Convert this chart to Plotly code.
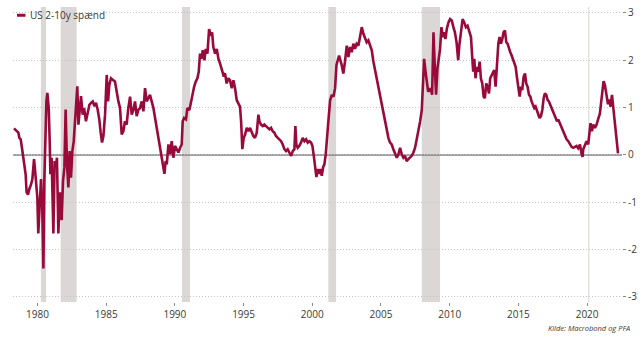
import plotly.graph_objects as go

# ---- data (decimal years, spread in %-points) ----
t = [
    1978.29, 1978.49, 1978.61, 1978.68, 1978.78, 1978.87, 1978.97, 1979.07, 1979.14, 1979.21,
    1979.31, 1979.41, 1979.53, 1979.63, 1979.75, 1979.82, 1979.89, 1979.99, 1980.06, 1980.16,
    1980.26, 1980.35, 1980.43, 1980.50, 1980.57, 1980.65, 1980.72, 1980.82, 1980.89, 1980.94,
    1981.03, 1981.16, 1981.25, 1981.35, 1981.42, 1981.52, 1981.64, 1981.76, 1981.86, 1981.96,
    1982.05, 1982.15, 1982.25, 1982.34, 1982.44, 1982.54, 1982.64, 1982.73, 1982.83, 1982.90,
    1982.98, 1983.07, 1983.17, 1983.29, 1983.39, 1983.53, 1983.66, 1983.78, 1983.90, 1984.02,
    1984.14, 1984.26, 1984.38, 1984.50, 1984.60, 1984.70, 1984.80, 1984.92, 1985.04, 1985.14,
    1985.23, 1985.35, 1985.52, 1985.64, 1985.89, 1986.01, 1986.13, 1986.25, 1986.37, 1986.49,
    1986.61, 1986.74, 1986.86, 1986.98, 1987.10, 1987.22, 1987.34, 1987.46, 1987.59, 1987.71,
    1987.83, 1987.95, 1988.07, 1988.19, 1988.31, 1988.44, 1988.56, 1988.68, 1988.80, 1988.92,
    1989.04, 1989.16, 1989.24, 1989.33, 1989.41, 1989.53, 1989.65, 1989.77, 1989.89, 1990.01,
    1990.13, 1990.26, 1990.38, 1990.50, 1990.57, 1990.67, 1990.81, 1990.91, 1991.06, 1991.18,
    1991.30, 1991.40, 1991.52, 1991.64, 1991.74, 1991.83, 1991.93, 1992.03, 1992.15, 1992.25,
    1992.37, 1992.49, 1992.61, 1992.71, 1992.80, 1992.93, 1993.05, 1993.17, 1993.29, 1993.41,
    1993.53, 1993.65, 1993.77, 1993.89, 1994.01, 1994.14, 1994.26, 1994.38, 1994.50, 1994.62,
    1994.74, 1994.82, 1994.91, 1995.01, 1995.11, 1995.23, 1995.35, 1995.47, 1995.59, 1995.71,
    1995.83, 1995.96, 1996.08, 1996.15, 1996.27, 1996.39, 1996.51, 1996.64, 1996.76, 1996.88,
    1997.00, 1997.12, 1997.24, 1997.36, 1997.49, 1997.61, 1997.73, 1997.85, 1997.97, 1998.09,
    1998.21, 1998.33, 1998.46, 1998.58, 1998.70, 1998.77, 1998.84, 1998.94, 1999.06, 1999.18,
    1999.30, 1999.43, 1999.55, 1999.67, 1999.79, 1999.91, 2000.01, 2000.11, 2000.20, 2000.30,
    2000.40, 2000.50, 2000.59, 2000.69, 2000.79, 2000.88, 2000.98, 2001.05, 2001.17, 2001.30,
    2001.42, 2001.54, 2001.66, 2001.76, 2001.85, 2001.95, 2002.14, 2002.26, 2002.38, 2002.51,
    2002.63, 2002.75, 2002.87, 2002.99, 2003.11, 2003.23, 2003.36, 2003.48, 2003.60, 2003.72,
    2003.84, 2003.96, 2004.08, 2004.20, 2004.33, 2004.45, 2004.57, 2004.69, 2004.81, 2004.93,
    2005.05, 2005.18, 2005.30, 2005.42, 2005.54, 2005.66, 2005.78, 2005.90, 2006.02, 2006.15,
    2006.27, 2006.39, 2006.51, 2006.63, 2006.75, 2006.87, 2006.99, 2007.12, 2007.24, 2007.36,
    2007.48, 2007.60, 2007.72, 2007.85, 2007.97, 2008.04, 2008.14, 2008.23, 2008.33, 2008.43,
    2008.53, 2008.62, 2008.72, 2008.82, 2008.91, 2009.01, 2009.11, 2009.20, 2009.30, 2009.40,
    2009.50, 2009.59, 2009.69, 2009.79, 2009.91, 2010.03, 2010.15, 2010.27, 2010.38, 2010.50,
    2010.62, 2010.70, 2010.82, 2010.94, 2011.06, 2011.18, 2011.30, 2011.42, 2011.55, 2011.64,
    2011.71, 2011.79, 2011.88, 2011.98, 2012.08, 2012.18, 2012.27, 2012.37, 2012.47, 2012.56,
    2012.66, 2012.76, 2012.86, 2012.95, 2013.05, 2013.15, 2013.24, 2013.34, 2013.44, 2013.54,
    2013.63, 2013.73, 2013.83, 2013.92, 2014.02, 2014.12, 2014.21, 2014.31, 2014.41, 2014.51,
    2014.60, 2014.70, 2014.80, 2014.89, 2014.99, 2015.09, 2015.19, 2015.28, 2015.38, 2015.48,
    2015.57, 2015.67, 2015.77, 2015.87, 2015.96, 2016.06, 2016.16, 2016.25, 2016.35, 2016.45,
    2016.54, 2016.64, 2016.74, 2016.84, 2016.93, 2017.03, 2017.13, 2017.22, 2017.32, 2017.42,
    2017.52, 2017.61, 2017.71, 2017.81, 2017.90, 2018.00, 2018.14, 2018.26, 2018.38, 2018.51,
    2018.63, 2018.75, 2018.87, 2018.99, 2019.11, 2019.23, 2019.35, 2019.48, 2019.60, 2019.67,
    2019.72, 2019.84, 2019.96, 2020.08, 2020.16, 2020.25, 2020.35, 2020.45, 2020.57, 2020.69,
    2020.81, 2020.93, 2021.03, 2021.13, 2021.20, 2021.30, 2021.42, 2021.52, 2021.61, 2021.71,
    2021.81, 2021.90, 2022.00, 2022.10, 2022.19, 2022.25,
]
spread = [
    0.56, 0.50, 0.47, 0.36, 0.33, 0.15, -0.06, -0.20, -0.41, -0.79,
    -0.84, -0.72, -0.63, -0.51, -0.09, -0.30, -0.58, -0.90, -1.66, -0.90,
    -0.51, -1.10, -2.40, -0.55, 0.64, 1.13, 1.31, 0.99, 0.29, -0.41,
    -0.06, -1.66, -0.13, -0.23, -0.06, -1.66, -0.79, -1.38, -0.55, -0.27,
    0.96, -0.20, -0.69, 0.08, -0.48, 0.08, 0.29, 0.64, 0.99, 1.45,
    0.64, 1.03, 1.24, 0.85, 0.99, 0.71, 0.92, 1.06, 1.10, 1.13,
    1.03, 1.10, 0.96, 0.75, 0.47, 0.26, 0.40, 0.85, 1.69, 1.13,
    1.48, 1.62, 1.58, 1.55, 1.13, 0.99, 0.43, 0.50, 0.71, 0.64,
    0.99, 1.23, 0.85, 0.95, 1.13, 0.82, 0.95, 0.99, 1.13, 0.92,
    1.41, 1.13, 1.20, 1.27, 1.13, 0.99, 0.78, 0.57, 0.43, 0.22,
    0.01, -0.20, -0.40, -0.13, -0.20, 0.22, 0.01, 0.29, -0.06, 0.19,
    0.12, 0.05, 0.15, 0.22, 0.71, 0.78, 0.75, 0.99, 0.95, 1.13,
    1.23, 1.44, 1.55, 1.62, 1.76, 2.14, 2.03, 2.21, 2.00, 2.24,
    2.14, 2.66, 2.52, 2.59, 2.28, 2.14, 2.24, 2.03, 1.93, 1.83,
    1.69, 1.72, 1.51, 1.62, 1.58, 1.41, 1.58, 1.41, 1.16, 1.09,
    1.02, 0.71, 0.12, 0.36, 0.43, 0.57, 0.50, 0.57, 0.47, 0.40,
    0.36, 0.47, 0.85, 0.71, 0.64, 0.61, 0.64, 0.61, 0.57, 0.54,
    0.57, 0.50, 0.47, 0.40, 0.36, 0.33, 0.29, 0.22, 0.12, 0.08,
    0.12, 0.05, -0.02, 0.08, 0.12, 0.61, 0.22, 0.15, 0.19, 0.26,
    0.36, 0.29, 0.33, 0.26, 0.29, 0.26, 0.19, -0.02, -0.26, -0.47,
    -0.30, -0.40, -0.30, -0.44, -0.26, -0.20, 0.01, 0.36, 0.71, 1.16,
    1.27, 1.23, 1.41, 1.90, 2.00, 2.10, 1.90, 1.72, 1.97, 2.31,
    2.07, 2.28, 2.17, 2.35, 2.24, 2.35, 2.31, 2.49, 2.70, 2.56,
    2.45, 2.38, 2.42, 2.31, 2.21, 1.97, 1.79, 1.58, 1.44, 1.23,
    1.06, 0.85, 0.68, 0.50, 0.36, 0.26, 0.22, 0.12, 0.01, -0.06,
    0.01, 0.15, 0.01, -0.06, -0.02, -0.13, -0.09, -0.06, -0.02, 0.05,
    0.15, 0.33, 0.50, 0.71, 0.95, 1.41, 2.03, 1.79, 1.55, 1.34,
    1.37, 1.41, 1.27, 2.59, 1.90, 1.27, 1.83, 2.00, 2.24, 2.70,
    2.49, 2.59, 2.45, 2.66, 2.80, 2.87, 2.84, 2.70, 2.59, 2.38,
    2.00, 2.31, 2.59, 2.87, 2.80, 2.70, 2.73, 2.59, 2.49, 2.07,
    1.76, 2.03, 1.62, 1.86, 1.76, 1.97, 1.62, 1.51, 1.23, 1.20,
    1.51, 1.44, 1.30, 1.62, 1.69, 1.76, 1.79, 1.44, 2.03, 2.35,
    2.49, 2.35, 2.45, 2.59, 2.63, 2.38, 2.35, 2.24, 2.17, 2.10,
    2.03, 1.93, 1.86, 1.65, 1.37, 1.23, 1.44, 1.37, 1.65, 1.72,
    1.51, 1.44, 1.27, 1.23, 1.13, 1.06, 0.99, 1.02, 0.92, 0.85,
    0.78, 0.82, 0.95, 1.20, 1.30, 1.27, 1.16, 1.13, 1.06, 0.95,
    0.89, 0.85, 0.78, 0.71, 0.75, 0.68, 0.60, 0.50, 0.45, 0.33,
    0.29, 0.24, 0.17, 0.15, 0.17, 0.19, 0.14, 0.22, 0.02, -0.04,
    0.12, 0.19, 0.29, 0.22, 0.47, 0.67, 0.50, 0.64, 0.57, 0.64,
    0.76, 0.87, 1.13, 1.42, 1.56, 1.47, 1.28, 1.07, 1.17, 1.02,
    1.27, 1.02, 0.72, 0.43, 0.12, 0.03,
]

# recession bands (start, end), as read from the shaded columns
rec_start = [1980.25, 1981.69, 1990.52, 2001.17, 2007.97, 2020.08]
rec_end = [1980.62, 1982.85, 1991.10, 2001.73, 2009.30, 2020.16]

x_ticks = [1980, 1985, 1990, 1995, 2000, 2005, 2010, 2015, 2020]
y_ticks = [-3, -2, -1, 0, 1, 2, 3]
y_ticktext = ["-3", "-2", "-1", "0", "1", "2", "3"]

series_name = "US 2-10y spænd"
source_text = "Kilde: Macrobond og PFA"

LINE_COLOR = "#990a3a"
SHADE_COLOR = "#dbd7d7"
TEXT_COLOR = "#3a3a3a"
FONT = "Open Sans"

fig = go.Figure()
fig.add_trace(go.Scatter(
    x=t, y=spread, mode="lines", name=series_name,
    line=dict(color=LINE_COLOR, width=2.6),
    showlegend=False, hoverinfo="skip",
))


def make_shapes(layer):
    shapes = []
    for s, e in zip(rec_start, rec_end):
        shapes.append(dict(type="rect", xref="x", yref="paper", x0=s, x1=e, y0=0, y1=1,
                           fillcolor=SHADE_COLOR, line=dict(width=0), layer=layer))
    shapes.append(dict(type="line", xref="paper", yref="y", x0=0, x1=1, y0=0, y1=0,
                       line=dict(color="#808080", width=1.5), layer=layer))
    # legend symbol
    shapes.append(dict(type="line", xref="paper", yref="paper", x0=0.0066, x1=0.0205,
                       y0=0.972, y1=0.972, line=dict(color=LINE_COLOR, width=3), layer="above"))
    return shapes


try:
    fig.update_layout(shapes=make_shapes("between"))
except Exception:
    fig.update_layout(shapes=make_shapes("below"))

fig.update_layout(
    width=642, height=339, autosize=False,
    margin=dict(l=13, r=20, t=5, b=37),
    paper_bgcolor="white", plot_bgcolor="white",
    font=dict(family=FONT, size=10, color=TEXT_COLOR),
    xaxis=dict(
        range=[1978.22, 2022.54], tickmode="array", tickvals=x_ticks,
        ticktext=[str(v) for v in x_ticks],
        ticks="outside", ticklen=3, tickcolor="#8a8a8a", tickwidth=1,
        showgrid=False, zeroline=False, showline=False,
        tickfont=dict(family=FONT, size=10, color=TEXT_COLOR),
    ),
    yaxis=dict(
        side="right", range=[-3.11, 3.126], tickmode="array",
        tickvals=y_ticks, ticktext=y_ticktext,
        ticks="outside", ticklen=3, tickcolor="#8a8a8a", tickwidth=1,
        showgrid=True, gridcolor="#c4c4c4", gridwidth=1, griddash="1px,2px",
        zeroline=False, showline=False,
        tickfont=dict(family=FONT, size=10, color=TEXT_COLOR),
    ),
    annotations=[
        dict(text=series_name, xref="paper", yref="paper", x=0.0245, y=0.972,
             xanchor="left", yanchor="middle", showarrow=False,
             font=dict(family=FONT, size=10, color=TEXT_COLOR)),
        dict(text="<i>" + source_text + "</i>", xref="paper", yref="paper",
             x=1.0164, y=-0.0875, xanchor="right", yanchor="middle", showarrow=False,
             font=dict(family=FONT, size=7.5, color=TEXT_COLOR)),
    ],
)

fig.write_html("out.html")
